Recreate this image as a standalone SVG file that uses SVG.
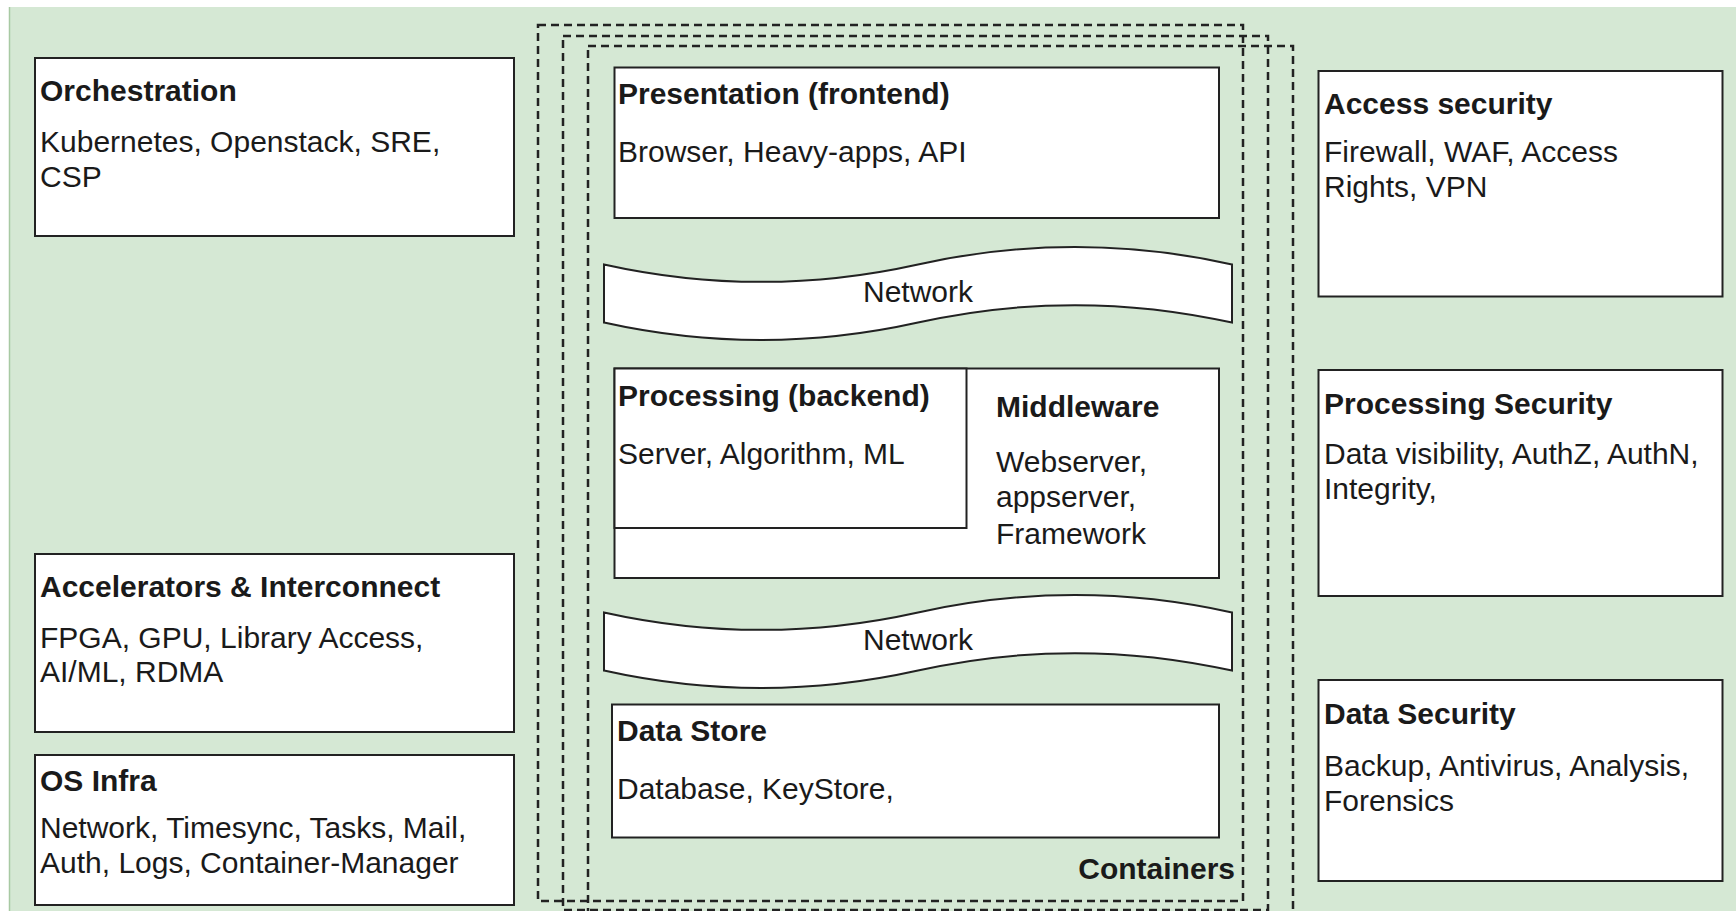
<svg xmlns="http://www.w3.org/2000/svg" width="1736" height="911" viewBox="0 0 1736 911">
<style>
  .bg { fill: #d5e8d4; }
  .box { fill: #ffffff; stroke: #222222; stroke-width: 2; }
  .dash { fill: none; stroke: #222222; stroke-width: 2.5; stroke-dasharray: 8 5; }
  .tape { fill: #ffffff; stroke: #222222; stroke-width: 2; }
  text { font-family: "Liberation Sans", Arial, sans-serif; font-size: 30px; fill: #1a1a1a; }
  .t { font-weight: bold; }
</style>
<rect x="0" y="0" width="1736" height="911" fill="#ffffff"/>
<rect class="bg" x="9" y="7" width="1727" height="904"/>
<line x1="9.5" y1="7" x2="9.5" y2="911" stroke="#a8c9a3" stroke-width="1.5"/>

<g id="containers">
  <rect class="dash" x="538" y="25" width="705" height="876"/>
  <rect class="dash" x="563" y="36" width="705" height="874"/>
  <rect class="dash" x="588" y="46" width="705" height="874"/>
  <text class="t" x="1235" y="879" text-anchor="end">Containers</text>
</g>

<g id="orchestration">
  <rect class="box" x="35" y="58" width="479" height="178"/>
  <text class="t" x="40" y="101">Orchestration</text>
  <text x="40" y="152">Kubernetes, Openstack, SRE,</text>
  <text x="40" y="187">CSP</text>
</g>

<g id="accelerators">
  <rect class="box" x="35" y="554" width="479" height="178"/>
  <text class="t" x="40" y="597">Accelerators &amp; Interconnect</text>
  <text x="40" y="648">FPGA, GPU, Library Access,</text>
  <text x="40" y="682">AI/ML, RDMA</text>
</g>

<g id="os-infra">
  <rect class="box" x="35" y="755" width="479" height="150"/>
  <text class="t" x="40" y="791">OS Infra</text>
  <text x="40" y="838">Network, Timesync, Tasks, Mail,</text>
  <text x="40" y="873">Auth, Logs, Container-Manager</text>
</g>

<g id="presentation">
  <rect class="box" x="614.5" y="67.5" width="604.5" height="150.5"/>
  <text class="t" x="618" y="104">Presentation (frontend)</text>
  <text x="618" y="162">Browser, Heavy-apps, API</text>
</g>

<g id="network-1">
  <path class="tape" d="M 604 264.4 Q 761 299.3 918 264.4 Q 1075 229.5 1232 264.4 L 1232 322.6 Q 1075 287.7 918 322.6 Q 761 357.5 604 322.6 Z"/>
  <text x="918" y="302" text-anchor="middle">Network</text>
</g>

<g id="middleware">
  <rect class="box" x="614.5" y="368.5" width="604.5" height="209.5"/>
  <text class="t" x="996" y="417">Middleware</text>
  <text x="996" y="472">Webserver,</text>
  <text x="996" y="507">appserver,</text>
  <text x="996" y="544">Framework</text>
</g>

<g id="processing">
  <rect class="box" x="614.5" y="368.5" width="352" height="159.5"/>
  <text class="t" x="618" y="406">Processing (backend)</text>
  <text x="618" y="464">Server, Algorithm, ML</text>
</g>

<g id="network-2">
  <path class="tape" d="M 604 612.4 Q 761 647.3 918 612.4 Q 1075 577.5 1232 612.4 L 1232 670.6 Q 1075 635.7 918 670.6 Q 761 705.5 604 670.6 Z"/>
  <text x="918" y="650" text-anchor="middle">Network</text>
</g>

<g id="data-store">
  <rect class="box" x="612" y="704.5" width="607" height="133"/>
  <text class="t" x="617" y="741">Data Store</text>
  <text x="617" y="799">Database, KeyStore,</text>
</g>

<g id="access-security">
  <rect class="box" x="1318.5" y="71" width="404" height="225.5"/>
  <text class="t" x="1324" y="114">Access security</text>
  <text x="1324" y="162">Firewall, WAF, Access</text>
  <text x="1324" y="197">Rights, VPN</text>
</g>

<g id="processing-security">
  <rect class="box" x="1318.5" y="370" width="404" height="226"/>
  <text class="t" x="1324" y="414">Processing Security</text>
  <text x="1324" y="464">Data visibility, AuthZ, AuthN,</text>
  <text x="1324" y="499">Integrity,</text>
</g>

<g id="data-security">
  <rect class="box" x="1318.5" y="680" width="404" height="201"/>
  <text class="t" x="1324" y="724">Data Security</text>
  <text x="1324" y="776">Backup, Antivirus, Analysis,</text>
  <text x="1324" y="811">Forensics</text>
</g>
</svg>
